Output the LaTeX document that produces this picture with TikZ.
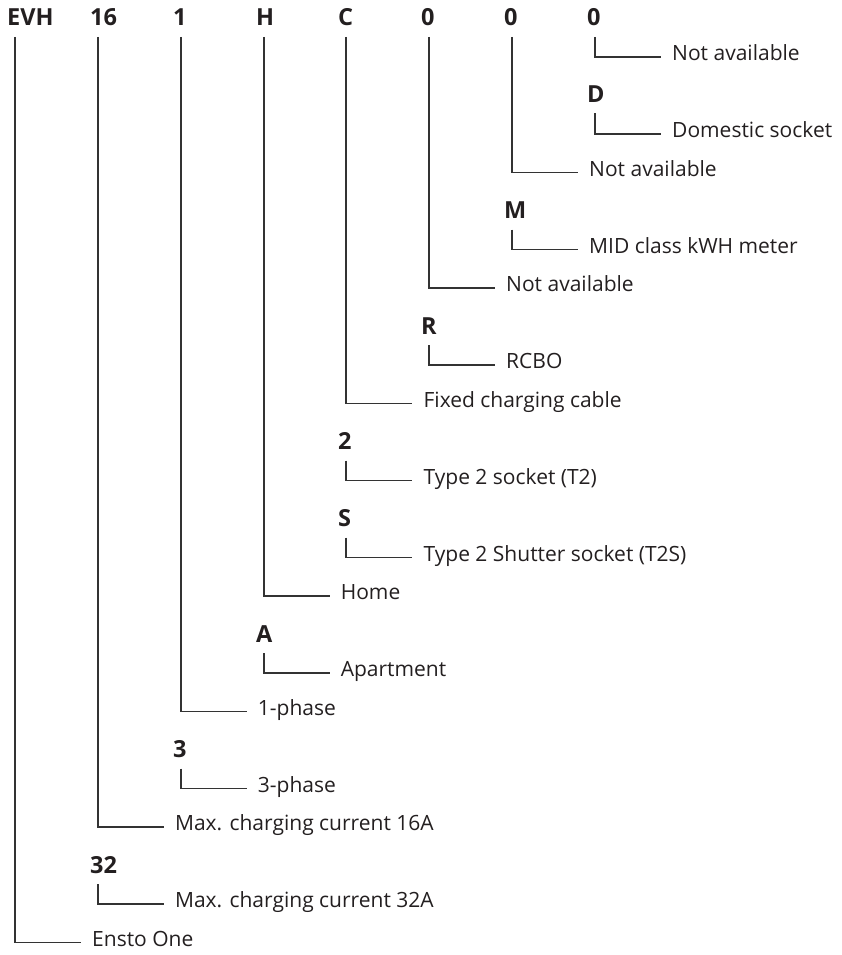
\documentclass[tikz,border=0pt]{standalone}
\usepackage{fontspec}
\setmainfont{Open Sans}
\definecolor{inkgray}{HTML}{231F20}
\definecolor{linegray}{HTML}{333333}

\tikzset{
  code/.style={font=\fontsize{23.5}{28}\selectfont\bfseries, text=inkgray, anchor=base west, inner sep=0pt},
  descr/.style={font=\fontsize{21}{25}\selectfont, text=inkgray, anchor=west, inner xsep=11pt, inner ysep=0pt, text height=0.714em, text depth=0pt},
  link/.style={draw=linegray, line width=1.3pt}
}

\begin{document}
\begin{tikzpicture}[x=1pt, y=-1pt]
        \useasboundingbox (0,0) rectangle (841,955);

        % Code letters
        \node[code] (evh) at (7,26) {EVH};
        \node[code] (c16) at (90,26) {16};
        \node[code] (c1) at (173,26) {1};
        \node[code] (cH) at (256,26) {H};
        \node[code] (cC) at (338,26) {C};
        \node[code] (c0a) at (421,26) {0};
        \node[code] (c0b) at (504,26) {0};
        \node[code] (c0c) at (587,26) {0};

        % Alternative letters
        \node[code] (cD) at (587,102.5) {D};
        \node[code] (cM) at (504,218.5) {M};
        \node[code] (cR) at (421,334) {R};
        \node[code] (c2) at (338,449.5) {2};
        \node[code] (cS) at (338,526.5) {S};
        \node[code] (cA) at (256,642) {A};
        \node[code] (c3) at (173,757.5) {3};
        \node[code] (c32) at (90,873) {32};

        % Meanings
        \node[descr] (dNAc) at (661,57) {Not available};
        \node[descr] (dDom) at (661,134) {Domestic socket};
        \node[descr] (dNAb) at (578,172.5) {Not available};
        \node[descr] (dMID) at (578,249.5) {MID class kWH meter};
        \node[descr] (dNAa) at (495,288) {Not available};
        \node[descr] (dRCBO) at (495,365) {RCBO};
        \node[descr] (dFixed) at (412.4,403.5) {Fixed charging cable};
        \node[descr] (dT2) at (412.4,480.5) {Type 2 socket (T2)};
        \node[descr] (dT2S) at (412.4,557.5) {Type 2 Shutter socket (T2S)};
        \node[descr] (dHome) at (329.6,596) {Home};
        \node[descr] (dApt) at (329.6,673) {Apartment};
        \node[descr] (d1ph) at (246.7,711.5) {1-phase};
        \node[descr] (d3ph) at (246.7,788.5) {3-phase};
        \node[descr] (d16) at (163.9,827) {Max. charging current 16A};
        \node[descr] (d32) at (163.9,904) {Max. charging current 32A};
        \node[descr] (dEnsto) at (81,942.5) {Ensto One};

        % Connectors
        \draw[link] ([xshift=8pt,yshift=-11pt]evh.base west) |- (dEnsto.west);
        \draw[link] ([xshift=8pt,yshift=-11pt]c16.base west) |- (d16.west);
        \draw[link] ([xshift=8pt,yshift=-11pt]c32.base west) |- (d32.west);
        \draw[link] ([xshift=8pt,yshift=-11pt]c1.base west) |- (d1ph.west);
        \draw[link] ([xshift=8pt,yshift=-11pt]c3.base west) |- (d3ph.west);
        \draw[link] ([xshift=8pt,yshift=-11pt]cH.base west) |- (dHome.west);
        \draw[link] ([xshift=8pt,yshift=-11pt]cA.base west) |- (dApt.west);
        \draw[link] ([xshift=8pt,yshift=-11pt]cC.base west) |- (dFixed.west);
        \draw[link] ([xshift=8pt,yshift=-11pt]c2.base west) |- (dT2.west);
        \draw[link] ([xshift=8pt,yshift=-11pt]cS.base west) |- (dT2S.west);
        \draw[link] ([xshift=8pt,yshift=-11pt]c0a.base west) |- (dNAa.west);
        \draw[link] ([xshift=8pt,yshift=-11pt]cR.base west) |- (dRCBO.west);
        \draw[link] ([xshift=8pt,yshift=-11pt]c0b.base west) |- (dNAb.west);
        \draw[link] ([xshift=8pt,yshift=-11pt]cM.base west) |- (dMID.west);
        \draw[link] ([xshift=8pt,yshift=-11pt]c0c.base west) |- (dNAc.west);
        \draw[link] ([xshift=8pt,yshift=-11pt]cD.base west) |- (dDom.west);
\end{tikzpicture}
\end{document}
